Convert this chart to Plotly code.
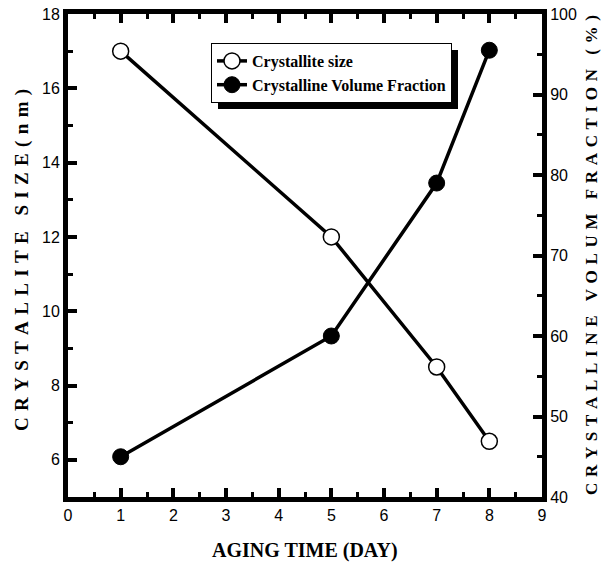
import plotly.graph_objects as go

days = [1, 5, 7, 8]
crystallite_size = [17.0, 12.0, 8.5, 6.5]
volume_fraction = [45.0, 60.0, 79.0, 95.5]

x_ticks = list(range(0, 10))
left_ticks = [6, 8, 10, 12, 14, 16, 18]
right_ticks = [40, 50, 60, 70, 80, 90, 100]

W, H = 602, 569
L, R, T, B = 68, 60, 14, 72
pw, ph = W - L - R, H - T - B

def px(x):
    return (x - L) / pw

def py(y):
    return (H - B - y) / ph

tick_font = dict(family="Liberation Sans, Arial", size=16, color="black")
serif = "Liberation Serif, Times New Roman, serif"

def spaced(s):
    sep = "\u00a0\u200a"
    out = ""
    for i, ch in enumerate(s):
        if ch == " ":
            out += "\u00a0\u00a0"
            continue
        out += ch
        if i < len(s) - 1:
            out += sep
    return out

fig = go.Figure()
fig.add_trace(go.Scatter(
    x=days, y=crystallite_size, name="Crystallite size", mode="lines+markers",
    legendgroup="a",
    line=dict(color="black", width=3.5),
    marker=dict(symbol="circle", size=16, color="white", line=dict(color="black", width=1.5)),
    yaxis="y"))
fig.add_trace(go.Scatter(
    x=days, y=volume_fraction, name="Crystalline Volume Fraction", mode="lines+markers",
    legendgroup="b",
    line=dict(color="black", width=3.5),
    marker=dict(symbol="circle", size=16, color="black", line=dict(color="black", width=1)),
    yaxis="y2"))

axis_common = dict(showline=True, linecolor="black", linewidth=5, ticks="inside",
                   tickwidth=4, ticklen=9, tickcolor="black", showgrid=False, zeroline=False,
                   tickfont=tick_font, automargin=False)

def minor(d):
    return dict(dtick=d, ticklen=5, tickwidth=3, tickcolor="black", ticks="inside")

fig.update_layout(
    width=W, height=H, margin=dict(l=L, r=R, t=T, b=B, autoexpand=False),
    plot_bgcolor="white", paper_bgcolor="white",
    showlegend=True,
    xaxis=dict(range=[0, 9], tickvals=x_ticks, mirror="ticks", minor=minor(0.5), **axis_common),
    yaxis=dict(range=[5, 18], tickvals=left_ticks, minor=minor(1), **axis_common),
    yaxis2=dict(range=[40, 100], tickvals=right_ticks, overlaying="y", side="right",
                minor=minor(5), **axis_common),
    legend=dict(x=px(211), y=py(43), xanchor="left", yanchor="top",
                bgcolor="white", bordercolor="black", borderwidth=1,
                font=dict(family=serif, size=16, color="black", weight="bold"),
                tracegroupgap=0),
    shapes=[dict(type="rect", xref="paper", yref="paper",
                 x0=px(218), x1=px(458), y0=py(109), y1=py(50),
                 fillcolor="black", line=dict(width=0), layer="above")],
    annotations=[
        dict(text="<b>AGING TIME (DAY)</b>", xref="paper", yref="paper", x=0.5, y=py(550),
             xanchor="center", yanchor="middle", showarrow=False,
             font=dict(family=serif, size=20, color="black")),
        dict(text="<b>" + spaced("CRYSTALLITE SIZE(nm)") + "</b>", xref="paper", yref="paper",
             x=px(22), y=py(260), xanchor="center", yanchor="middle", textangle=-90,
             showarrow=False, font=dict(family=serif, size=19, color="black")),
        dict(text="<b>" + spaced("CRYSTALLINE VOLUM FRACTION (%)") + "</b>", xref="paper", yref="paper",
             x=px(591), y=py(255), xanchor="center", yanchor="middle", textangle=-90,
             showarrow=False, font=dict(family=serif, size=17, color="black")),
    ],
)

fig.write_html("out.html")
